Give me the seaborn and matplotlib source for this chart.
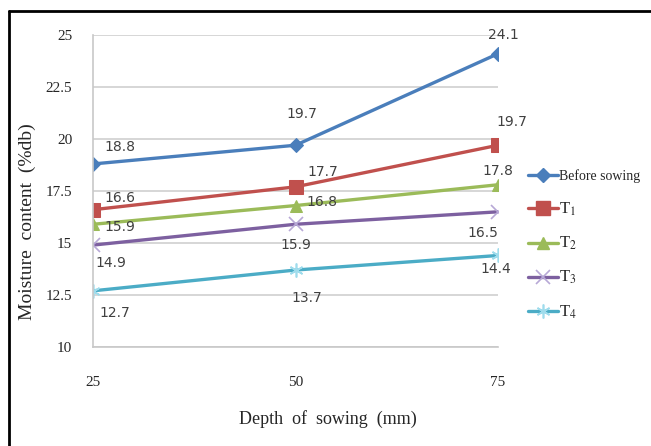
import matplotlib
matplotlib.use("Agg")
import matplotlib.pyplot as plt
from matplotlib.lines import Line2D
import seaborn as sns
import pandas as pd

depth = [25, 50, 75]
series_names = ["Before sowing", "T1", "T2", "T3", "T4"]
before_sowing = [18.8, 19.7, 24.1]
t1 = [16.6, 17.7, 19.7]
t2 = [15.9, 16.8, 17.8]
t3 = [14.9, 15.9, 16.5]
t4 = [12.7, 13.7, 14.4]
values = [before_sowing, t1, t2, t3, t4]
yticks = [10, 12.5, 15, 17.5, 20, 22.5, 25]
xticks = [25, 50, 75]

sns.set_style("white")
plt.rcParams["mathtext.fontset"] = "stix"

colors = ["#4A7EBB", "#C0504D", "#9BBB59", "#7D60A0", "#4BACC6"]
mcolors = ["#4A7EBB", "#C0504D", "#9BBB59", "#B7A8D6", "#9FDCEC"]
markers = ["D", "s", "^", "x", (6, 2, 0)]
msizes = [7, 10, 9, 10, 10]
legend_labels = ["Before sowing", r"T$_{1}$", r"T$_{2}$", r"T$_{3}$", r"T$_{4}$"]

# label offsets in pixels (dx, dy), dy positive = up
offsets = [
    [(27, 17), (6, 31), (5, 19)],
    [(27, 12), (27, 15), (14, 23)],
    [(27, -3), (26, 4), (0, 14)],
    [(18, -18), (0, -21), (-15, -21)],
    [(22, -22), (11, -28), (-2, -14)],
]

fig = plt.figure(figsize=(6.51, 4.46), dpi=100)
ax = fig.add_axes([93 / 651, 1 - 347 / 446, (498 - 93) / 651, (347 - 35) / 446])

rows = []
for name, vals in zip(series_names, values):
    for d, v in zip(depth, vals):
        rows.append({"depth": d, "value": v, "series": name})
df = pd.DataFrame(rows)

handles = []
for i, name in enumerate(series_names):
    sub = df[df["series"] == name]
    mk = markers[i]
    kw = dict(marker=mk, markersize=msizes[i], color=colors[i], linewidth=2.4)
    if i >= 3:
        kw.update(markeredgecolor=mcolors[i], markerfacecolor=mcolors[i], markeredgewidth=1.2)
    else:
        kw.update(markeredgecolor=colors[i], markerfacecolor=colors[i])
    sns.lineplot(data=sub, x="depth", y="value", ax=ax, **kw)
    handles.append(Line2D([0], [0], **kw))
    for j, (d, v) in enumerate(zip(sub["depth"], sub["value"])):
        dx, dy = offsets[i][j]
        ax.annotate(f"{v:g}", (d, v), xytext=(dx, dy), textcoords="offset pixels",
                    ha="center", va="center", fontsize=10, color="#404040",
                    family=["Liberation Sans Narrow", "DejaVu Sans"])

ax.set_xlim(25, 75)
ax.set_ylim(10, 25)
ax.set_yticks(yticks)
ax.set_yticklabels([f"{t:g}" for t in yticks])
ax.set_xticks(xticks)
ax.set_xticklabels([str(t) for t in xticks])
ax.grid(axis="y", color="#D0D0D0", linewidth=1.2)
ax.grid(axis="x", visible=False)
for s in ["top", "right"]:
    ax.spines[s].set_visible(False)
for s in ["left", "bottom"]:
    ax.spines[s].set_color("#C8C8C8")
    ax.spines[s].set_linewidth(1.2)
ax.tick_params(axis="both", length=0, labelsize=11)
ax.tick_params(axis="y", pad=15)
ax.tick_params(axis="x", pad=21)
for lab in ax.get_xticklabels() + ax.get_yticklabels():
    lab.set_family("Liberation Serif")

ax.set_xlabel("Depth  of  sowing  (mm)", family="Liberation Serif", fontsize=13)
ax.set_ylabel("Moisture  content  (%db)", family="Liberation Serif", fontsize=14)
ax.xaxis.set_label_coords((328 - 93) / 405, -(410 - 347) / 312)
ax.yaxis.set_label_coords((36 - 93) / 405, (347 - 222) / 312)

leg = fig.legend(handles, legend_labels, loc="upper left",
                 bbox_to_anchor=(515 / 651, 1 - 157 / 446), frameon=False,
                 handlelength=2.2, handletextpad=0.1, labelspacing=1.22,
                 prop={"family": "Liberation Serif", "size": 10})
for t, lab in zip(leg.get_texts(), legend_labels):
    if lab.startswith("T"):
        t.set_fontsize(12)

# outer frame (top and left edges visible)
x0 = 9 / 651
y0 = 1 - 11 / 446
fig.add_artist(Line2D([x0, x0], [0, y0], color="black", linewidth=2, transform=fig.transFigure))
fig.add_artist(Line2D([x0, 1], [y0, y0], color="black", linewidth=2, transform=fig.transFigure))

fig.savefig("out.png", dpi=100)
